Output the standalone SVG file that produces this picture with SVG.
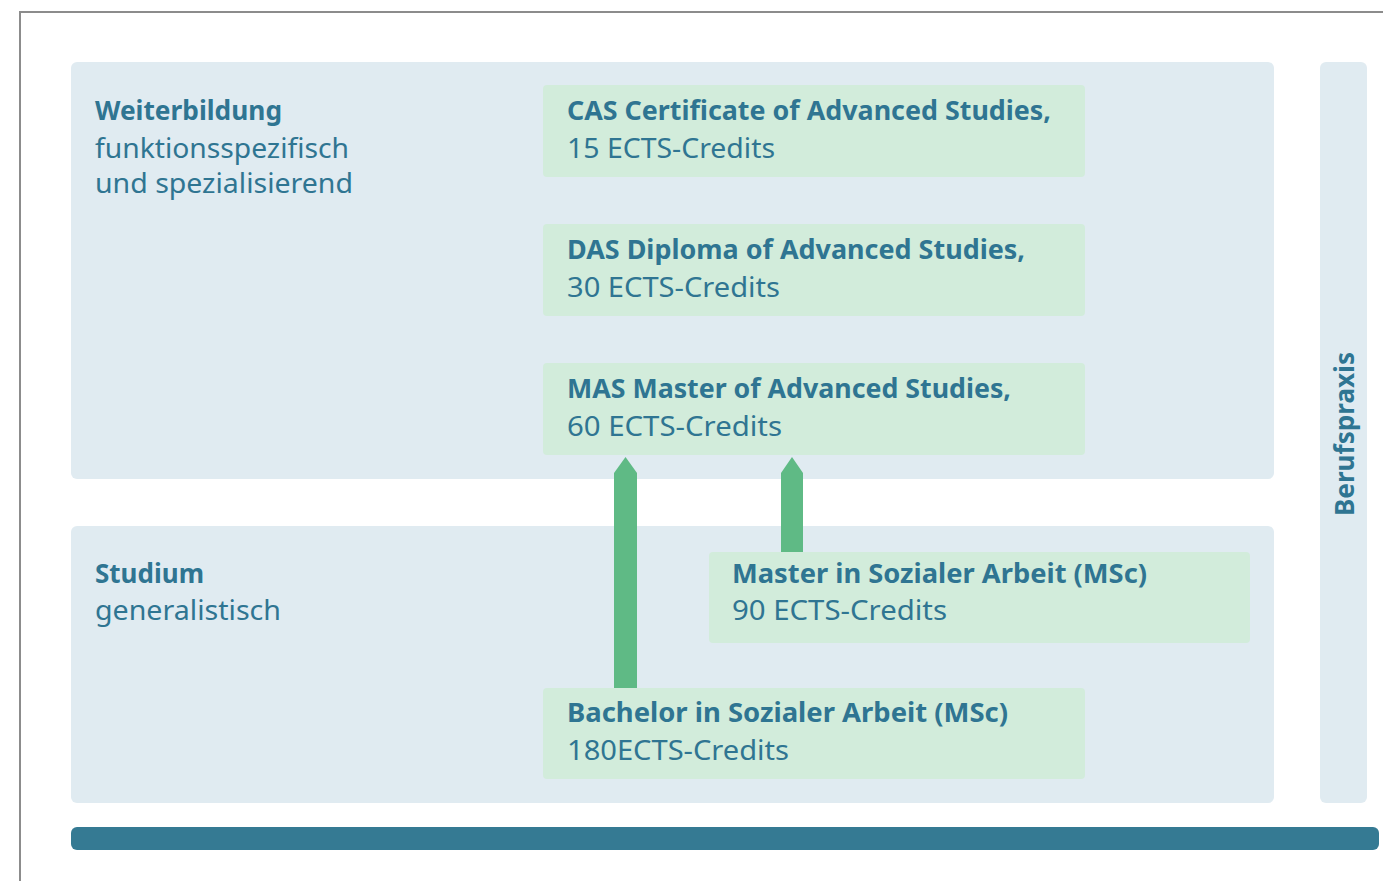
<svg xmlns="http://www.w3.org/2000/svg" width="1383" height="881" viewBox="0 0 1383 881">
<style>
.panel{fill:#e0ebf1}
.box{fill:#d2ecdb}
.arrow{fill:#5fba85}
text{font-family:"Noto Sans","Open Sans","DejaVu Sans",sans-serif;font-size:27px;fill:#2f7592}
.b{font-weight:bold}
</style>
<rect x="0" y="0" width="1383" height="881" fill="#ffffff"/>
<rect x="20" y="12" width="1400" height="900" fill="none" stroke="#8c8c8c" stroke-width="2"/>
<g id="weiterbildung">
<rect class="panel" x="71" y="62" width="1203" height="417" rx="6"/>
<text class="b" x="95" y="120" textLength="187" lengthAdjust="spacingAndGlyphs">Weiterbildung</text>
<text x="95" y="158" textLength="254" lengthAdjust="spacingAndGlyphs">funktionsspezifisch</text>
<text x="95" y="193" textLength="258" lengthAdjust="spacingAndGlyphs">und spezialisierend</text>
</g>
<g id="studium">
<rect class="panel" x="71" y="526" width="1203" height="277" rx="6"/>
<text class="b" x="95" y="583" textLength="109" lengthAdjust="spacingAndGlyphs">Studium</text>
<text x="95" y="620" textLength="186" lengthAdjust="spacingAndGlyphs">generalistisch</text>
</g>
<g id="berufspraxis">
<rect class="panel" x="1320" y="62" width="47" height="741" rx="6"/>
<text class="b" x="1354" y="434" text-anchor="middle" transform="rotate(-90 1354 434)" textLength="164" lengthAdjust="spacingAndGlyphs">Berufspraxis</text>
</g>
<g id="cas">
<rect class="box" x="543" y="85" width="542" height="92" rx="4"/>
<text class="b" x="567" y="120" textLength="484" lengthAdjust="spacingAndGlyphs">CAS Certificate of Advanced Studies,</text>
<text x="567" y="158" textLength="208" lengthAdjust="spacingAndGlyphs">15 ECTS-Credits</text>
</g>
<g id="das">
<rect class="box" x="543" y="224" width="542" height="92" rx="4"/>
<text class="b" x="567" y="259" textLength="458" lengthAdjust="spacingAndGlyphs">DAS Diploma of Advanced Studies,</text>
<text x="567" y="297" textLength="213" lengthAdjust="spacingAndGlyphs">30 ECTS-Credits</text>
</g>
<g id="mas">
<rect class="box" x="543" y="363" width="542" height="92" rx="4"/>
<text class="b" x="567" y="398" textLength="444" lengthAdjust="spacingAndGlyphs">MAS Master of Advanced Studies,</text>
<text x="567" y="436" textLength="215" lengthAdjust="spacingAndGlyphs">60 ECTS-Credits</text>
</g>
<g id="master">
<rect class="box" x="709" y="552" width="541" height="91" rx="4"/>
<text class="b" x="732" y="583" textLength="415" lengthAdjust="spacingAndGlyphs">Master in Sozialer Arbeit (MSc)</text>
<text x="732" y="620" textLength="215" lengthAdjust="spacingAndGlyphs">90 ECTS-Credits</text>
</g>
<g id="bachelor">
<rect class="box" x="543" y="688" width="542" height="91" rx="4"/>
<text class="b" x="567" y="722" textLength="441" lengthAdjust="spacingAndGlyphs">Bachelor in Sozialer Arbeit (MSc)</text>
<text x="567" y="760" textLength="222" lengthAdjust="spacingAndGlyphs">180ECTS-Credits</text>
</g>
<g id="connectors">
<polygon class="arrow" points="614,688 614,473 625.5,457 637,473 637,688"/>
<polygon class="arrow" points="781,552 781,473 792,457 803,473 803,552"/>
</g>
<rect id="basis" x="71" y="827" width="1308" height="23" rx="6" fill="#357a93"/>
</svg>
